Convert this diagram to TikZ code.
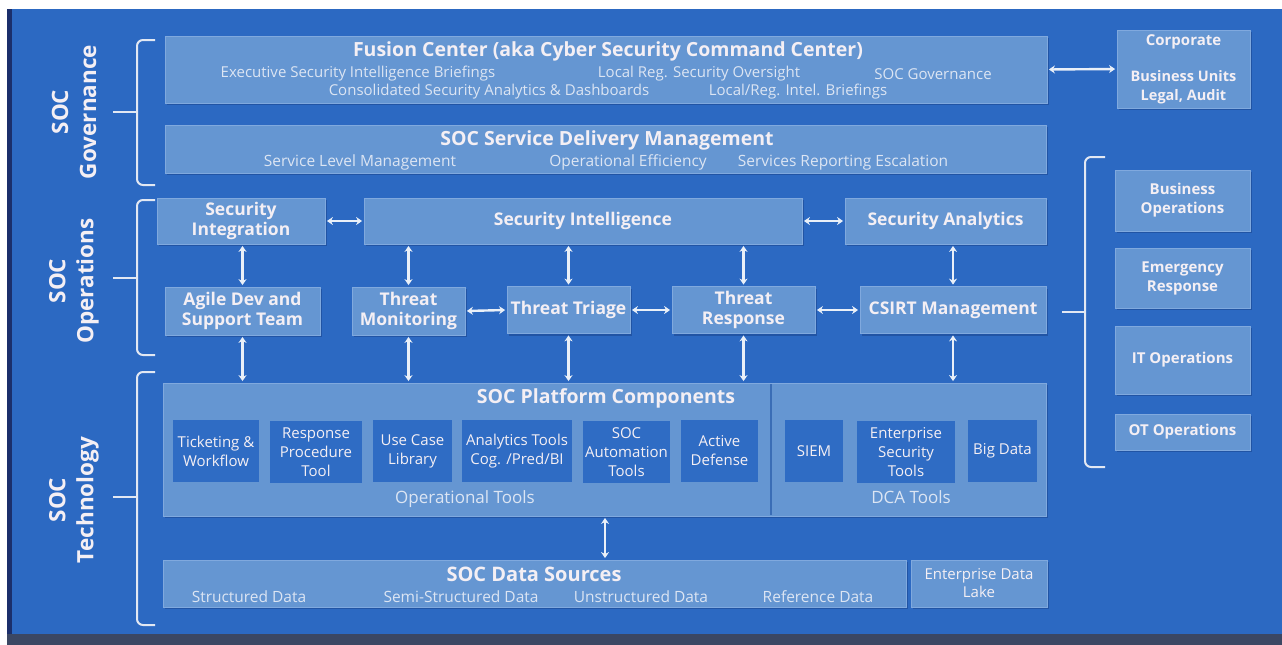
\documentclass[tikz,border=0pt]{standalone}
\usepackage{fontspec}
\setmainfont{Open Sans}
\usetikzlibrary{arrows.meta,shadows}
\definecolor{bg}{HTML}{2C69C2}
\definecolor{navy}{HTML}{1B2F6B}
\definecolor{bottomc}{HTML}{3B4763}
\definecolor{boxfill}{HTML}{6596D2}
\definecolor{boxline}{HTML}{80A9DE}
\definecolor{shadowc}{HTML}{1D4C98}
\definecolor{toolfill}{HTML}{2F6CC4}
\definecolor{txt}{HTML}{F4EFF4}
\definecolor{subtxt}{HTML}{DCE5F3}
\definecolor{arr}{HTML}{EAF0F8}
\definecolor{brkc}{HTML}{E2E8F3}
\definecolor{divc}{HTML}{3A6DB6}
\begin{document}
\begin{tikzpicture}[x=1pt,y=-1pt,
  box/.style={draw=boxline, line width=0.8pt, fill=boxfill, inner sep=0pt, align=center,
    text=txt, font=\bfseries\fontsize{17.5}{20}\selectfont,
    drop shadow={shadow xshift=1.5pt,shadow yshift=-2pt,fill=shadowc,opacity=.7}},
  tool/.style={fill=toolfill, inner sep=0pt, align=center, text=txt,
    font=\fontsize{15}{19}\selectfont, minimum height=62pt},
  rbox/.style={box, minimum width=135pt, font=\bfseries\fontsize{15}{19}\selectfont},
  title/.style={text=txt, font=\bfseries\fontsize{19.5}{22}\selectfont, inner sep=0pt},
  sub/.style={text=subtxt, font=\fontsize{15}{17}\selectfont, inner sep=0pt},
  subb/.style={text=subtxt, font=\fontsize{15.5}{17}\selectfont, inner sep=0pt},
  side/.style={text=txt, rotate=90, align=center, font=\bfseries\fontsize{22.5}{28}\selectfont, inner sep=0pt},
  dar/.style={{Stealth[length=6pt,width=8pt]}-{Stealth[length=6pt,width=8pt]}, line width=2.4pt,
    draw=arr, shorten <=1.5pt, shorten >=1.5pt},
  brk/.style={draw=brkc, line width=2pt, rounded corners=6pt}]
\useasboundingbox (0,0) rectangle (1282,645);
\fill[white] (0,0) rectangle (1282,645);
\fill[bg] (7,9) rectangle (1282,634);
\fill[navy] (7,9) rectangle (12,634);
\fill[bottomc] (7,634) rectangle (1282,645);

% side labels and brackets
\node[side] (lgov) at (74,112) {SOC\\Governance};
\node[side] (lops) at (74,281) {SOC\\Operations};
\node[side] (ltech) at (74,500) {SOC\\Technology};
\draw[brk] (155,40) -- (137,40) -- (137,185) -- (155,185);
\draw[brk] (137,112) -- (113,112);
\draw[brk] (155,200) -- (137,200) -- (137,355) -- (155,355);
\draw[brk] (137,278) -- (113,278);
\draw[brk] (155,372) -- (137,372) -- (137,625) -- (155,625);
\draw[brk] (137,497) -- (113,497);
\draw[brk] (1105,157) -- (1085,157) -- (1085,467) -- (1105,467);
\draw[brk] (1085,312) -- (1062,312);

% governance
\node[box, minimum width=882pt, minimum height=67pt] (fusion) at (606,69.5) {};
\node[title] (fusiont) at (608,51) {Fusion Center (aka Cyber Security Command Center)};
\node[sub] (f1) at (358,74) {Executive Security Intelligence Briefings};
\node[sub] (f2) at (699,74) {Local Reg. Security Oversight};
\node[sub] (f3) at (933,74) {SOC Governance};
\node[sub] (f4) at (489,92) {Consolidated Security Analytics \& Dashboards};
\node[sub] (f5) at (798,92) {Local/Reg. Intel. Briefings};

\node[box, minimum width=133pt, minimum height=78pt] (corp) at (1183.5,69) {};
\node[text=txt, font=\bfseries\fontsize{15}{17}\selectfont, inner sep=0pt] (corpt) at (1183.5,42) {Corporate};
\node[text=txt, align=center, font=\bfseries\fontsize{14.5}{19}\selectfont, inner sep=0pt] (corps) at (1183.5,87.5) {Business Units\\Legal, Audit};
\draw[dar] (fusion.east) -- (corp.west);

\node[box, minimum width=881pt, minimum height=48pt] (sdm) at (605.5,149) {};
\node[title] (sdmt) at (607,140) {SOC Service Delivery Management};
\node[subb] (s1) at (360,162) {Service Level Management};
\node[subb] (s2) at (628,162) {Operational Efficiency};
\node[subb] (s3) at (843,162) {Services Reporting Escalation};

% operations
\node[box, minimum width=168pt, minimum height=46pt] (secint) at (241,221) {Security\\Integration};
\node[box, minimum width=438pt, minimum height=46pt] (secintel) at (583,221) {Security Intelligence};
\node[box, minimum width=201pt, minimum height=46pt] (secan) at (945.5,221) {Security Analytics};
\node[box, minimum width=155pt, minimum height=48pt] (agile) at (242.5,311) {Agile Dev and\\Support Team};
\node[box, minimum width=113pt, minimum height=48pt] (tm) at (408.5,311) {Threat\\Monitoring};
\node[box, minimum width=123pt, minimum height=47pt] (tt) at (568.5,310) {Threat Triage};
\node[box, minimum width=143pt, minimum height=47pt] (tr) at (743.5,310) {Threat\\Response};
\node[box, minimum width=186pt, minimum height=47pt] (csirt) at (953,310) {CSIRT Management};

\draw[dar] (secint.east) -- (secintel.west);
\draw[dar] (secintel.east) -- (secan.west);
\draw[dar] (tm.east) -- (tt.west);
\draw[dar] (tt.east) -- (tr.west);
\draw[dar] (tr.east) -- (csirt.west);
\draw[dar] (secint.south -| agile.north) -- (agile.north);
\draw[dar] (tm.north |- secintel.south) -- (tm.north);
\draw[dar] (tt.north |- secintel.south) -- (tt.north);
\draw[dar] (tr.north |- secintel.south) -- (tr.north);
\draw[dar] (secan.south -| csirt.north) -- (csirt.north);

% right boxes
\node[rbox, minimum height=61pt] (bizops) at (1182.5,200.5) {Business\\Operations};
\node[rbox, minimum height=60pt] (emerg) at (1182.5,278) {Emergency\\Response};
\node[rbox, minimum height=68pt] (itops) at (1182.5,360) {IT Operations};
\node[rbox, minimum height=36pt] (otops) at (1182.5,432) {OT Operations};

% technology
\node[box, minimum width=883pt, minimum height=133pt] (plat) at (604.5,449.5) {};
\draw[divc, line width=1.5pt] (771,384) -- (771,515);
\node[title] (platt) at (606,398) {SOC Platform Components};
\node[tool, minimum width=86pt] (ticket) at (216,451) {Ticketing \&\\Workflow};
\node[tool, minimum width=92pt] (resp) at (316,452) {Response\\Procedure\\Tool};
\node[tool, minimum width=79pt] (usecase) at (412.5,451) {Use Case\\Library};
\node[tool, minimum width=110pt] (anal) at (517,451) {Analytics Tools\\Cog. /Pred/BI};
\node[tool, minimum width=87pt] (auto) at (626.5,452) {SOC\\Automation\\Tools};
\node[tool, minimum width=77pt] (active) at (719.5,451) {Active\\Defense};
\node[tool, minimum width=58pt] (siem) at (814,451) {SIEM};
\node[tool, minimum width=98pt] (est) at (906,452) {Enterprise\\Security\\Tools};
\node[tool, minimum width=69pt] (bigd) at (1002.5,451) {Big Data};
\node[subb, font=\fontsize{17}{19}\selectfont] (optools) at (465,499) {Operational Tools};
\node[subb, font=\fontsize{17}{19}\selectfont] (dcatools) at (911,497) {DCA Tools};

\draw[dar] (agile.south) -- (agile.south |- plat.north);
\draw[dar] (tm.south) -- (tm.south |- plat.north);
\draw[dar] (tt.south) -- (tt.south |- plat.north);
\draw[dar] (tr.south) -- (tr.south |- plat.north);
\draw[dar] (csirt.south) -- (csirt.south |- plat.north);

\node[box, minimum width=743pt, minimum height=47pt] (data) at (534.5,583.5) {};
\node[title, font=\bfseries\fontsize{20}{22}\selectfont] (datat) at (534,574) {SOC Data Sources};
\node[subb] (d1) at (249,597) {Structured Data};
\node[subb] (d2) at (461,597) {Semi-Structured Data};
\node[subb] (d3) at (641,597) {Unstructured Data};
\node[subb] (d4) at (818,597) {Reference Data};
\node[box, minimum width=136pt, minimum height=47pt, font=\fontsize{15}{18}\selectfont] (lake) at (979,583.5) {Enterprise Data\\Lake};
\coordinate (dx) at (605,0);
\draw[dar] (dx |- plat.south) -- (dx |- data.north);
\end{tikzpicture}
\end{document}
